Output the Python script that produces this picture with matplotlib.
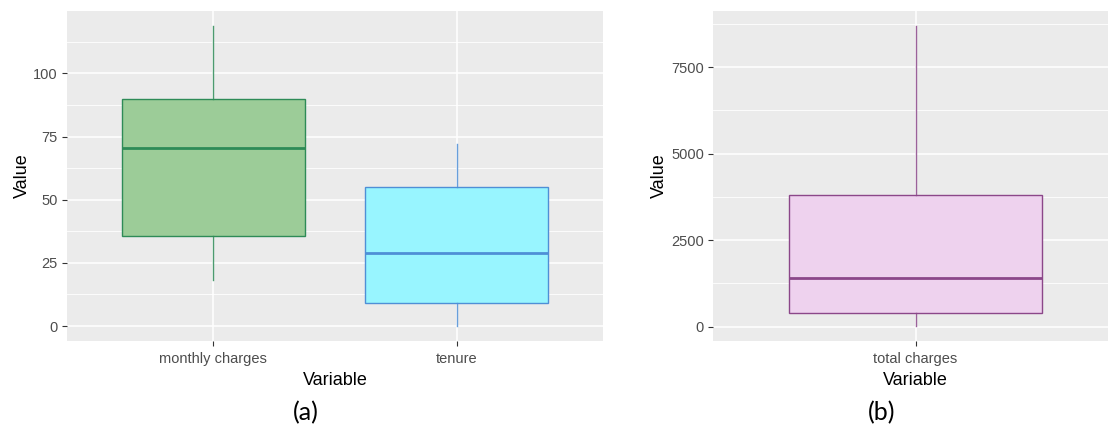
import numpy as np
import matplotlib
matplotlib.use("Agg")
import matplotlib.pyplot as plt
from matplotlib.ticker import FixedLocator

plt.rcParams["font.family"] = ["Liberation Sans", "DejaVu Sans"]

# five-number summaries per variable
left_vars = ["monthly charges", "tenure"]
left_whislo = [18.25, 0.0]
left_q1 = [35.5, 9.0]
left_med = [70.35, 29.0]
left_q3 = [89.85, 55.0]
left_whishi = [118.75, 72.0]
left_fill = ["#9ccc98", "#98f5ff"]
left_edge = ["#2e8b57", "#4f8fd6"]

right_vars = ["total charges"]
right_whislo = [18.8]
right_q1 = [401.0]
right_med = [1397.0]
right_q3 = [3794.7]
right_whishi = [8684.8]
right_fill = ["#eed2ee"]
right_edge = ["#8b4789"]

left_ticks = [0, 25, 50, 75, 100]
right_ticks = [0, 2500, 5000, 7500]

W, H = 1108, 428
fig = plt.figure(figsize=(W / 100, H / 100), dpi=100)


def ggbox(ax, names, lo, q1, med, q3, hi, fills, edges, ticks, minor):
    stats = []
    for i, n in enumerate(names):
        stats.append(dict(label=n, whislo=lo[i], q1=q1[i], med=med[i], q3=q3[i], whishi=hi[i], fliers=[]))
    pos = np.arange(1, len(names) + 1)
    ax.set_facecolor("#ebebeb")
    ax.set_axisbelow(True)
    for s in ax.spines.values():
        s.set_visible(False)
    ax.yaxis.set_major_locator(FixedLocator(ticks))
    ax.yaxis.set_minor_locator(FixedLocator(minor))
    ax.grid(which="major", color="white", linewidth=1.1)
    ax.grid(which="minor", axis="y", color="white", linewidth=0.6)
    ax.tick_params(which="minor", length=0)
    ax.tick_params(which="major", length=3.5, width=0.8, color="#333333",
                   labelcolor="#4d4d4d", labelsize=10.5, pad=3)
    ax.tick_params(axis="x", pad=4.5)
    for i, st in enumerate(stats):
        ax.bxp([st], positions=[pos[i]], widths=0.75, showcaps=False,
               showfliers=False, patch_artist=True,
               boxprops=dict(facecolor=fills[i], edgecolor=edges[i], linewidth=1.0),
               whiskerprops=dict(color=edges[i], linewidth=1.0, alpha=0.85),
               medianprops=dict(color=edges[i], linewidth=2.0),
               manage_ticks=False, zorder=3)
    ax.set_xticks(pos)
    ax.set_xticklabels(names)
    ax.set_xlim(0.4, len(names) + 0.6)
    rng = max(hi) - min(lo)
    ax.set_ylim(min(lo) - 0.05 * rng, max(hi) + 0.05 * rng)
    ax.set_xlabel("Variable", fontsize=13, color="black", labelpad=4)
    ax.set_ylabel("Value", fontsize=13, color="black", labelpad=2)


ax1 = fig.add_axes([67 / W, 1 - 341 / H, 536 / W, 330 / H])
ggbox(ax1, left_vars, left_whislo, left_q1, left_med, left_q3, left_whishi,
      left_fill, left_edge, left_ticks, [12.5, 37.5, 62.5, 87.5, 112.5])

ax2 = fig.add_axes([713 / W, 1 - 341 / H, 405 / W, 330 / H])
ggbox(ax2, right_vars, right_whislo, right_q1, right_med, right_q3, right_whishi,
      right_fill, right_edge, right_ticks, [1250, 3750, 6250, 8750])

fig.text(306 / W, 1 - 413 / H, "(a)", fontsize=18, ha="center", va="center",
         family=["Lato", "DejaVu Sans"])
fig.text(882 / W, 1 - 413 / H, "(b)", fontsize=18, ha="center", va="center",
         family=["Lato", "DejaVu Sans"])

fig.savefig("out.png", dpi=100)
